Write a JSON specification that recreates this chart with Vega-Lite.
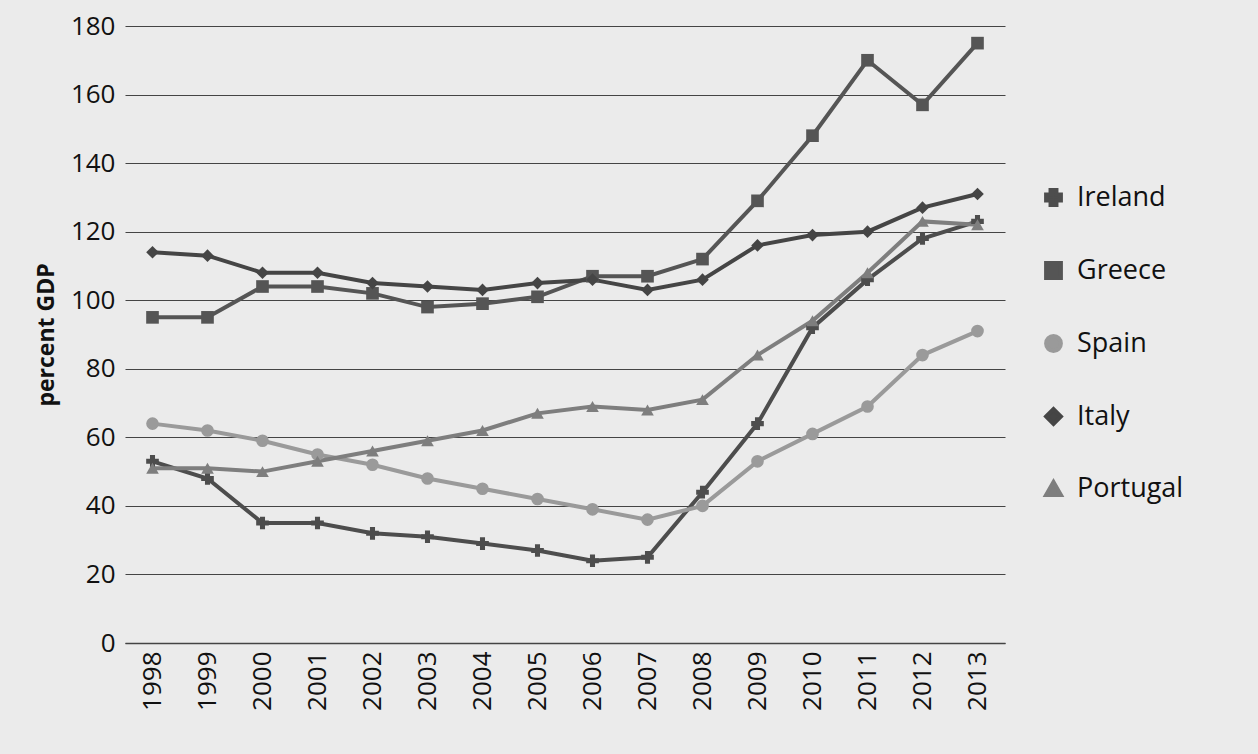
{
  "$schema": "https://vega.github.io/schema/vega-lite/v6.json",
  "width": 880,
  "height": 617,
  "autosize": "none",
  "padding": {"left": 125, "top": 26, "right": 253, "bottom": 111},
  "background": "#ebebeb",
  "config": {
    "font": "Open Sans",
    "view": {"stroke": null},
    "axis": {"labelFontSize": 26, "labelColor": "#111", "titleColor": "#111"}
  },
  "data": {
    "values": [
      {"year": "1998", "country": "Ireland", "v": 53}, {"year": "1999", "country": "Ireland", "v": 48}, {"year": "2000", "country": "Ireland", "v": 35}, {"year": "2001", "country": "Ireland", "v": 35}, {"year": "2002", "country": "Ireland", "v": 32}, {"year": "2003", "country": "Ireland", "v": 31}, {"year": "2004", "country": "Ireland", "v": 29}, {"year": "2005", "country": "Ireland", "v": 27}, {"year": "2006", "country": "Ireland", "v": 24}, {"year": "2007", "country": "Ireland", "v": 25}, {"year": "2008", "country": "Ireland", "v": 44}, {"year": "2009", "country": "Ireland", "v": 64}, {"year": "2010", "country": "Ireland", "v": 92}, {"year": "2011", "country": "Ireland", "v": 106}, {"year": "2012", "country": "Ireland", "v": 118}, {"year": "2013", "country": "Ireland", "v": 123},
      {"year": "1998", "country": "Greece", "v": 95}, {"year": "1999", "country": "Greece", "v": 95}, {"year": "2000", "country": "Greece", "v": 104}, {"year": "2001", "country": "Greece", "v": 104}, {"year": "2002", "country": "Greece", "v": 102}, {"year": "2003", "country": "Greece", "v": 98}, {"year": "2004", "country": "Greece", "v": 99}, {"year": "2005", "country": "Greece", "v": 101}, {"year": "2006", "country": "Greece", "v": 107}, {"year": "2007", "country": "Greece", "v": 107}, {"year": "2008", "country": "Greece", "v": 112}, {"year": "2009", "country": "Greece", "v": 129}, {"year": "2010", "country": "Greece", "v": 148}, {"year": "2011", "country": "Greece", "v": 170}, {"year": "2012", "country": "Greece", "v": 157}, {"year": "2013", "country": "Greece", "v": 175},
      {"year": "1998", "country": "Spain", "v": 64}, {"year": "1999", "country": "Spain", "v": 62}, {"year": "2000", "country": "Spain", "v": 59}, {"year": "2001", "country": "Spain", "v": 55}, {"year": "2002", "country": "Spain", "v": 52}, {"year": "2003", "country": "Spain", "v": 48}, {"year": "2004", "country": "Spain", "v": 45}, {"year": "2005", "country": "Spain", "v": 42}, {"year": "2006", "country": "Spain", "v": 39}, {"year": "2007", "country": "Spain", "v": 36}, {"year": "2008", "country": "Spain", "v": 40}, {"year": "2009", "country": "Spain", "v": 53}, {"year": "2010", "country": "Spain", "v": 61}, {"year": "2011", "country": "Spain", "v": 69}, {"year": "2012", "country": "Spain", "v": 84}, {"year": "2013", "country": "Spain", "v": 91},
      {"year": "1998", "country": "Italy", "v": 114}, {"year": "1999", "country": "Italy", "v": 113}, {"year": "2000", "country": "Italy", "v": 108}, {"year": "2001", "country": "Italy", "v": 108}, {"year": "2002", "country": "Italy", "v": 105}, {"year": "2003", "country": "Italy", "v": 104}, {"year": "2004", "country": "Italy", "v": 103}, {"year": "2005", "country": "Italy", "v": 105}, {"year": "2006", "country": "Italy", "v": 106}, {"year": "2007", "country": "Italy", "v": 103}, {"year": "2008", "country": "Italy", "v": 106}, {"year": "2009", "country": "Italy", "v": 116}, {"year": "2010", "country": "Italy", "v": 119}, {"year": "2011", "country": "Italy", "v": 120}, {"year": "2012", "country": "Italy", "v": 127}, {"year": "2013", "country": "Italy", "v": 131},
      {"year": "1998", "country": "Portugal", "v": 51}, {"year": "1999", "country": "Portugal", "v": 51}, {"year": "2000", "country": "Portugal", "v": 50}, {"year": "2001", "country": "Portugal", "v": 53}, {"year": "2002", "country": "Portugal", "v": 56}, {"year": "2003", "country": "Portugal", "v": 59}, {"year": "2004", "country": "Portugal", "v": 62}, {"year": "2005", "country": "Portugal", "v": 67}, {"year": "2006", "country": "Portugal", "v": 69}, {"year": "2007", "country": "Portugal", "v": 68}, {"year": "2008", "country": "Portugal", "v": 71}, {"year": "2009", "country": "Portugal", "v": 84}, {"year": "2010", "country": "Portugal", "v": 94}, {"year": "2011", "country": "Portugal", "v": 108}, {"year": "2012", "country": "Portugal", "v": 123}, {"year": "2013", "country": "Portugal", "v": 122}
    ]
  },
  "mark": {"type": "line", "strokeWidth": 4, "point": {"size": 160, "filled": true}},
  "encoding": {
    "x": {
      "field": "year", "type": "ordinal", "title": null,
      "scale": {"paddingOuter": 0.5},
      "axis": {"labelAngle": -90, "ticks": false, "domainColor": "#444", "domainWidth": 1.5, "labelPadding": 8}
    },
    "y": {
      "field": "v", "type": "quantitative", "title": "percent GDP",
      "scale": {"domain": [0, 180]},
      "axis": {"values": [0, 20, 40, 60, 80, 100, 120, 140, 160, 180], "gridColor": "#444", "gridWidth": 1.2, "domain": false, "ticks": false, "labelPadding": 10, "titleFontSize": 23, "titleFontWeight": "bold", "titlePadding": 12}
    },
    "color": {
      "field": "country", "type": "nominal", "title": null,
      "sort": ["Ireland", "Greece", "Spain", "Italy", "Portugal"],
      "scale": {"domain": ["Ireland", "Greece", "Spain", "Italy", "Portugal"], "range": ["#4d4d4d", "#555555", "#9a9a9a", "#454545", "#7e7e7e"]},
      "legend": {"orient": "none", "legendX": 915, "legendY": 158, "labelFontSize": 27, "labelColor": "#111", "symbolSize": 220, "symbolStrokeWidth": 4, "rowPadding": 42, "labelOffset": 10}
    },
    "shape": {
      "field": "country", "type": "nominal",
      "scale": {"domain": ["Ireland", "Greece", "Spain", "Italy", "Portugal"], "range": ["cross", "square", "circle", "diamond", "triangle-up"]},
      "legend": null
    }
  }
}
